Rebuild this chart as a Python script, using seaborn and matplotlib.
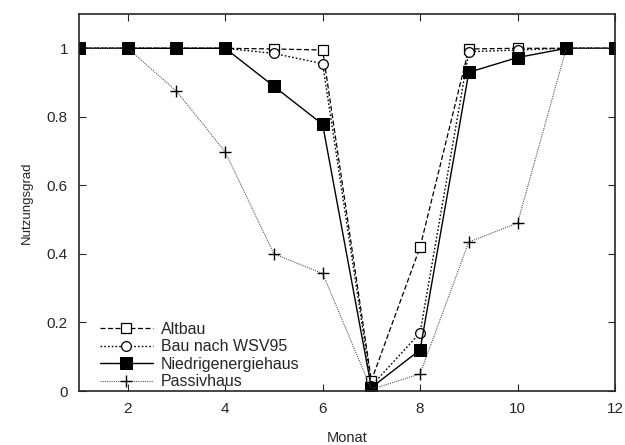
import matplotlib
matplotlib.use("Agg")
import matplotlib.pyplot as plt
import seaborn as sns
import pandas as pd

months = [1, 2, 3, 4, 5, 6, 7, 8, 9, 10, 11, 12]
altbau = [1, 1, 1, 1, 0.998, 0.995, 0.03, 0.42, 0.998, 1.0, 1, 1]
wsv95 = [1, 1, 1, 1, 0.985, 0.955, 0.015, 0.17, 0.99, 0.995, 1, 1]
niedrig = [1, 1, 1, 1, 0.889, 0.778, 0.01, 0.12, 0.93, 0.973, 1, 1]
passiv = [1, 1, 0.875, 0.698, 0.40, 0.343, 0.005, 0.05, 0.435, 0.49, 1, 1]

labels = ["Altbau", "Bau nach WSV95", "Niedrigenergiehaus", "Passivhaus"]
xticks = [2, 4, 6, 8, 10, 12]
yticks = [0, 0.2, 0.4, 0.6, 0.8, 1]
ytick_labels = ["0", "0.2", "0.4", "0.6", "0.8", "1"]

sns.set_style("ticks")
plt.rcParams['font.family'] = ['Liberation Sans', 'DejaVu Sans']

fig = plt.figure(figsize=(6.25, 4.45), dpi=100)
ax = fig.add_axes([0.1264, 0.1213, 0.984 - 0.1264, 0.9685 - 0.1213])

styles = [
    dict(linestyle=(0, (4, 2)), marker="s", markersize=7, markerfacecolor="white",
         markeredgecolor="black", color="black", linewidth=0.9, markeredgewidth=0.9),
    dict(linestyle=(0, (1.2, 1.5)), marker="o", markersize=7, markerfacecolor="white",
         markeredgecolor="black", color="black", linewidth=1.0, markeredgewidth=0.9),
    dict(linestyle="-", marker="s", markersize=8.5, markerfacecolor="black",
         markeredgecolor="black", color="black", linewidth=1.0),
    dict(linestyle=(0, (1, 1)), marker="+", markersize=8, color="#555555",
         markeredgecolor="black", linewidth=0.8, markeredgewidth=1.0),
]

for vals, lab, st in zip([altbau, wsv95, niedrig, passiv], labels, styles):
    df = pd.DataFrame({"Monat": months, "Nutzungsgrad": vals})
    sns.lineplot(data=df, x="Monat", y="Nutzungsgrad", ax=ax, label=lab, **st)

ax.set_xlim(1, 12)
ax.set_ylim(0, 1.1)
ax.set_xticks(xticks)
ax.set_xticklabels([str(t) for t in xticks])
ax.set_yticks(yticks)
ax.set_yticklabels(ytick_labels)
ax.tick_params(direction="in", top=True, right=True, labelsize=11, length=5, width=0.8, pad=8)
for s in ax.spines.values():
    s.set_linewidth(1.2)
    s.set_visible(True)
ax.set_xlabel("Monat", fontsize=10.5, labelpad=11)
ax.set_ylabel("Nutzungsgrad", fontsize=9.5, labelpad=10)

leg = ax.legend(loc="lower left", frameon=False, fontsize=11.5, handlelength=3.3,
                labelspacing=0.15, borderaxespad=0.0, handletextpad=0.5,
                bbox_to_anchor=(0.027, -0.012))

fig.savefig("out.png", dpi=100)
